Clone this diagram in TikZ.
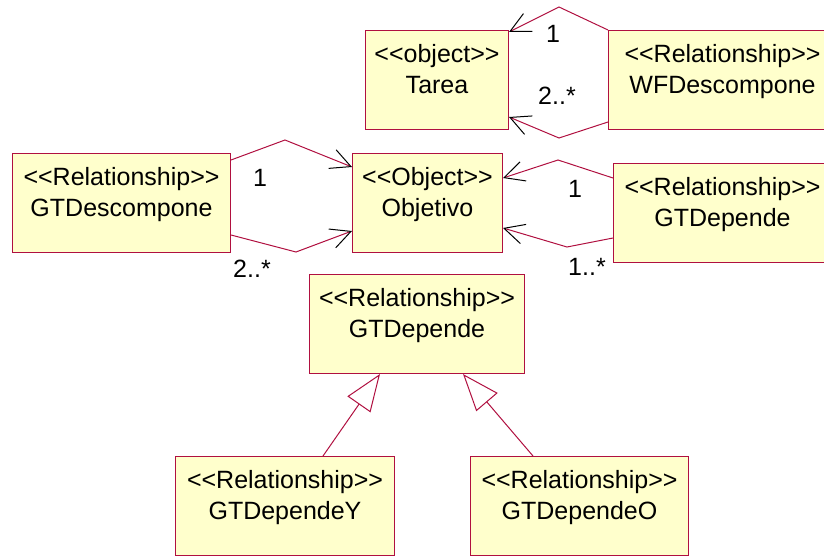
\documentclass[tikz,border=0pt]{standalone}
\usepackage{fontspec}
\setmainfont{Liberation Sans}[Ligatures=TeXOff]
\usetikzlibrary{arrows.meta}

\definecolor{umlred}{RGB}{176,16,64}
\definecolor{umlfill}{RGB}{255,255,204}

\begin{document}
\begin{tikzpicture}[
  x=1pt, y=-1pt,
  every node/.style={font=\fontsize{25}{31}\selectfont},
  cls/.style={draw=umlred, fill=umlfill, line width=1pt, inner sep=0pt,
    anchor=north west, align=center, text height=63pt, text depth=36pt},
  nav/.style={draw=umlred, line width=1pt,
    -{Straight Barb[length=20pt, width=20pt, color=black, line width=1pt]}},
  gen/.style={draw=umlred, line width=1pt,
    -{Triangle[open, length=37pt, width=28pt, line width=1pt]}},
  mult/.style={anchor=base, inner sep=0pt},
]

\useasboundingbox (0,0) rectangle (824,556);
\clip (0,0) rectangle (824,556);

% Object classes
\node[cls, minimum width=143pt] (tarea) at (365,30) {<<object>>\\Tarea};
\node[cls, minimum width=150pt] (obj)   at (352,153) {<<Object>>\\Objetivo};

% Relationships
\node[cls, minimum width=228pt] (wfd)    at (608,30)  {<<Relationship>>\\WFDescompone};
\node[cls, minimum width=218pt] (gtdesc) at (12,153)  {<<Relationship>>\\GTDescompone};
\node[cls, minimum width=218pt] (gtdep)  at (613,163) {<<Relationship>>\\GTDepende};
\node[cls, minimum width=215pt] (gtdepm) at (309,274) {<<Relationship>>\\GTDepende};
\node[cls, minimum width=219pt] (gtdy)   at (175,456) {<<Relationship>>\\GTDependeY};
\node[cls, minimum width=218pt] (gtdo)   at (470,456) {<<Relationship>>\\GTDependeO};

% ── WFDescompone -> Tarea ──
\coordinate (w1) at (559,7);
\coordinate (w2) at (559,138);
\draw[nav] (wfd.north west) -- (w1) -- ([yshift=-2pt]tarea.north east);
\draw[nav] ([yshift=8pt]wfd.south west) -- (w2) -- ([yshift=13pt]tarea.south east);
\node[mult] (mw1) at (553,43) {1};
\node[mult] (mw2) at (557,105) {2..*};

% ── GTDescompone -> Objetivo ──
\coordinate (d1) at (285,140);
\coordinate (d2) at (296,252);
\draw[nav] ([yshift=-7pt]gtdesc.north east) -- (d1) -- ([yshift=-14pt]obj.north west);
\draw[nav] ([yshift=18pt]gtdesc.south east) -- (d2) -- ([yshift=22pt]obj.south west);
\node[mult] (md1) at (260,187) {1};
\node[mult] (md2) at (252,277) {2..*};

% ── GTDepende -> Objetivo ──
\coordinate (p1) at (558,160);
\coordinate (p2) at (567,247);
\draw[nav] ([yshift=-15pt]gtdep.north west) -- (p1) -- ([yshift=-25pt]obj.north east);
\draw[nav] ([yshift=25pt]gtdep.south west) -- (p2) -- ([yshift=25pt]obj.south east);
\node[mult] (mp1) at (575,197) {1};
\node[mult] (mp2) at (587,275) {1..*};

% ── Generalisation ──
\draw[gen] ([xshift=148pt]gtdy.north west) -- ([xshift=71pt]gtdepm.south west);
\draw[gen] ([xshift=63pt]gtdo.north west) -- ([xshift=154pt]gtdepm.south west);

\end{tikzpicture}
\end{document}
